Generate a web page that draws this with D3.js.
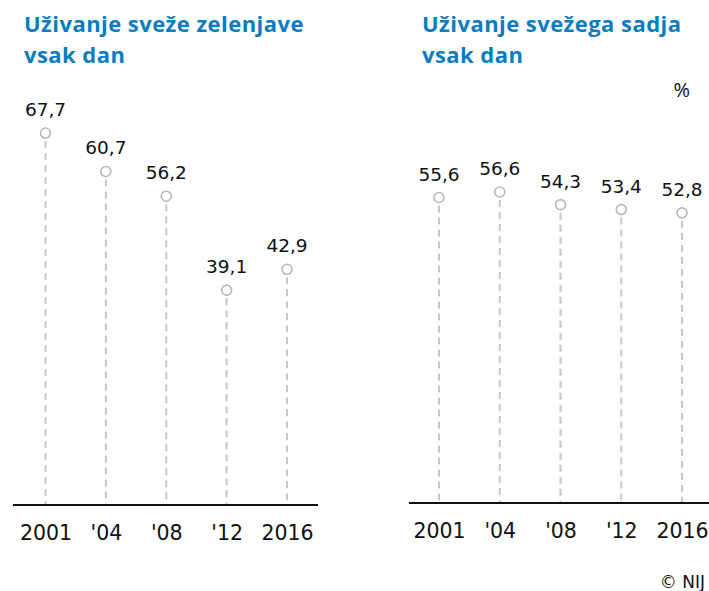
<!DOCTYPE html>
<html>
<head>
<meta charset="utf-8">
<script src="https://cdn.jsdelivr.net/npm/d3@7"></script>
<style>
  html, body { margin: 0; padding: 0; background: #fff; }
  svg { display: block; }
</style>
</head>
<body>
<svg id="chart" width="709" height="591"></svg>
<script>
const categories = ["2001", "'04", "'08", "'12", "2016"];
const vegetables = [67.7, 60.7, 56.2, 39.1, 42.9];
const fruit = [55.6, 56.6, 54.3, 53.4, 52.8];
const titleVeg = ["Uživanje sveže zelenjave", "vsak dan"];
const titleFruit = ["Uživanje svežega sadja", "vsak dan"];

const svg = d3.select("#chart");
const fmt = v => d3.format(".1f")(v).replace(".", ",");

function panel(opts) {
  const g = svg.append("g");
  const x = d3.scalePoint().domain(categories).range(opts.xr);
  const y = d3.scaleLinear().domain([0, 70]).range([opts.base, opts.base - 384.6]);

  // title
  const t = g.append("text")
    .attr("x", opts.tx).attr("y", 32)
    .attr("font-family", "'Open Sans', sans-serif")
    .attr("font-weight", 700).attr("font-size", 22)
    .attr("letter-spacing", 0.45)
    .attr("fill", "#0a7cc2");
  opts.title.forEach((line, i) => {
    t.append("tspan").attr("x", opts.tx).attr("y", 32 + i * 31).text(line);
  });

  const data = opts.values.map((v, i) => ({ c: categories[i], v }));

  // dashed stems
  g.selectAll("line.stem").data(data).join("line")
    .attr("class", "stem")
    .attr("x1", d => x(d.c)).attr("x2", d => x(d.c))
    .attr("y1", d => y(d.v) + 8).attr("y2", opts.base)
    .attr("stroke", "#c8c8c8").attr("stroke-width", 2)
    .attr("stroke-dasharray", "7,5");

  // axis baseline
  const axis = d3.axisBottom(x).tickSize(0).tickPadding(20);
  const ag = g.append("g").attr("transform", `translate(0,${opts.base})`).call(axis);
  ag.select(".domain").remove();
  ag.append("line")
    .attr("x1", opts.ax[0]).attr("x2", opts.ax[1])
    .attr("stroke", "#111").attr("stroke-width", 2);
  ag.selectAll(".tick text")
    .attr("font-family", "'DejaVu Sans', Verdana, sans-serif")
    .attr("font-size", 20.5).attr("fill", "#111");

  // circles
  g.selectAll("circle").data(data).join("circle")
    .attr("cx", d => x(d.c)).attr("cy", d => y(d.v)).attr("r", 5)
    .attr("fill", "#fff").attr("stroke", "#b8b8b8").attr("stroke-width", 1.6);

  // value labels
  g.selectAll("text.val").data(data).join("text")
    .attr("class", "val")
    .attr("x", d => x(d.c)).attr("y", d => y(d.v) - 17)
    .attr("text-anchor", "middle")
    .attr("font-family", "'DejaVu Sans', Verdana, sans-serif")
    .attr("font-size", 18.5).attr("fill", "#111")
    .text(d => fmt(d.v));
}

panel({ title: titleVeg, values: vegetables, xr: [45.5, 287], base: 505, ax: [13, 318], tx: 24 });
panel({ title: titleFruit, values: fruit, xr: [439, 682], base: 503, ax: [409, 709], tx: 422 });

svg.append("text").attr("x", 690).attr("y", 97).attr("text-anchor", "end")
  .attr("font-family", "'Open Sans', sans-serif").attr("font-size", 20).attr("fill", "#111")
  .text("%");

svg.append("text").attr("x", 705).attr("y", 588).attr("text-anchor", "end")
  .attr("font-family", "'DejaVu Sans', Verdana, sans-serif").attr("font-size", 17).attr("fill", "#111")
  .text("© NIJ");
</script>
</body>
</html>
